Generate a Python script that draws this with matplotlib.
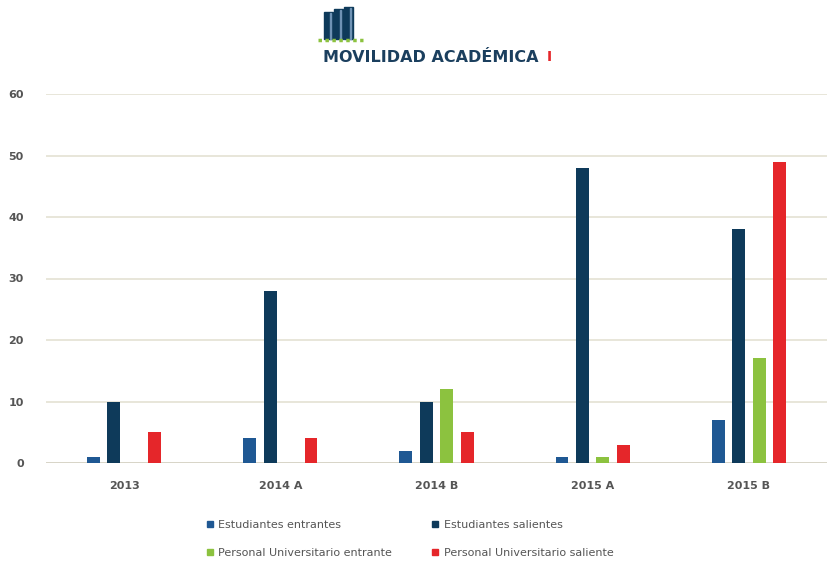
import matplotlib
matplotlib.use("Agg")
import matplotlib.pyplot as plt
from matplotlib.patches import Rectangle
from matplotlib.lines import Line2D
import numpy as np

plt.rcParams['font.family'] = ['Liberation Sans Narrow', 'DejaVu Sans']

# Data
periods = ["2013", "2014 A", "2014 B", "2015 A", "2015 B"]
est_entrantes = [1, 4, 2, 1, 7]
est_salientes = [10, 28, 10, 48, 38]
per_entrante = [0, 0, 12, 1, 17]
per_saliente = [5, 4, 5, 3, 49]

labels = ["Estudiantes entrantes", "Estudiantes salientes",
          "Personal Universitario entrante", "Personal Universitario saliente"]
colors = ["#1f5893", "#0e3a5a", "#8cc23f", "#e5262a"]
series = [est_entrantes, est_salientes, per_entrante, per_saliente]

W, H = 835, 572
fig = plt.figure(figsize=(W / 100, H / 100), dpi=100)
ax = fig.add_axes([46 / W, 1 - 463 / H, 781 / W, 369 / H])

x = np.arange(len(periods))
width = 0.083
step = 0.131
for i, (vals, col) in enumerate(zip(series, colors)):
    ax.bar(x + (i - 1.5) * step, vals, width, color=col, zorder=3, label=labels[i])

ax.set_xlim(-0.5, len(periods) - 0.5)
ax.set_ylim(0, 60)
ax.set_yticks(range(0, 61, 10))
ax.yaxis.grid(True, color="#e4e1d3", linewidth=1.2, zorder=0)
ax.axhline(0, color="#d8d5c8", linewidth=1.4, zorder=2)
for s in ax.spines.values():
    s.set_visible(False)
ax.tick_params(length=0, colors="#555555", labelsize=8)
ax.tick_params(axis='y', pad=16)
ax.tick_params(axis='x', pad=13)
ax.set_xticks(x)
ax.set_xticklabels(periods)
for t in ax.get_xticklabels() + ax.get_yticklabels():
    t.set_fontweight("bold")

# legend (two rows)
order = [0, 2, 1, 3]
handles = [Line2D([], [], marker='s', linestyle='none', markersize=5,
                  color=colors[k]) for k in order]
fig.legend(handles, [labels[k] for k in order], ncol=2, frameon=False,
           loc='upper left', bbox_to_anchor=(194 / W, 1 - 510 / H),
           fontsize=8, labelcolor="#555555", handletextpad=0.3,
           labelspacing=1.6, columnspacing=3.35, handlelength=1.0)

# title with icon
fig.text(431 / W, 1 - 57 / H, "MOVILIDAD ACADÉMICA", ha="center", va="center",
         fontsize=11.5, fontweight="bold", color="#1b3f5e",
         family=['DejaVu Sans'])
fig.text(549 / W, 1 - 57 / H, "I", ha="center", va="center",
         fontsize=10, fontweight="bold", color="#e5262a", family=['DejaVu Sans'])

icon = fig.add_axes([316 / W, 1 - 46 / H, 50 / W, 42 / H])
icon.set_xlim(316, 366)
icon.set_ylim(46, 4)
icon.axis("off")
for (x0, top) in [(324, 12), (334, 9), (344, 7)]:
    icon.add_patch(Rectangle((x0, top), 9, 39 - top, color="#0e3a5a"))
    icon.add_patch(Rectangle((x0 + 6, top + 1), 1.3, 38 - top, color="#6f93b5"))
icon.plot([318, 363], [40, 40], color="#8cc23f", linewidth=2.5, linestyle=(0, (1, 1)))

fig.savefig("out.png", dpi=100)
